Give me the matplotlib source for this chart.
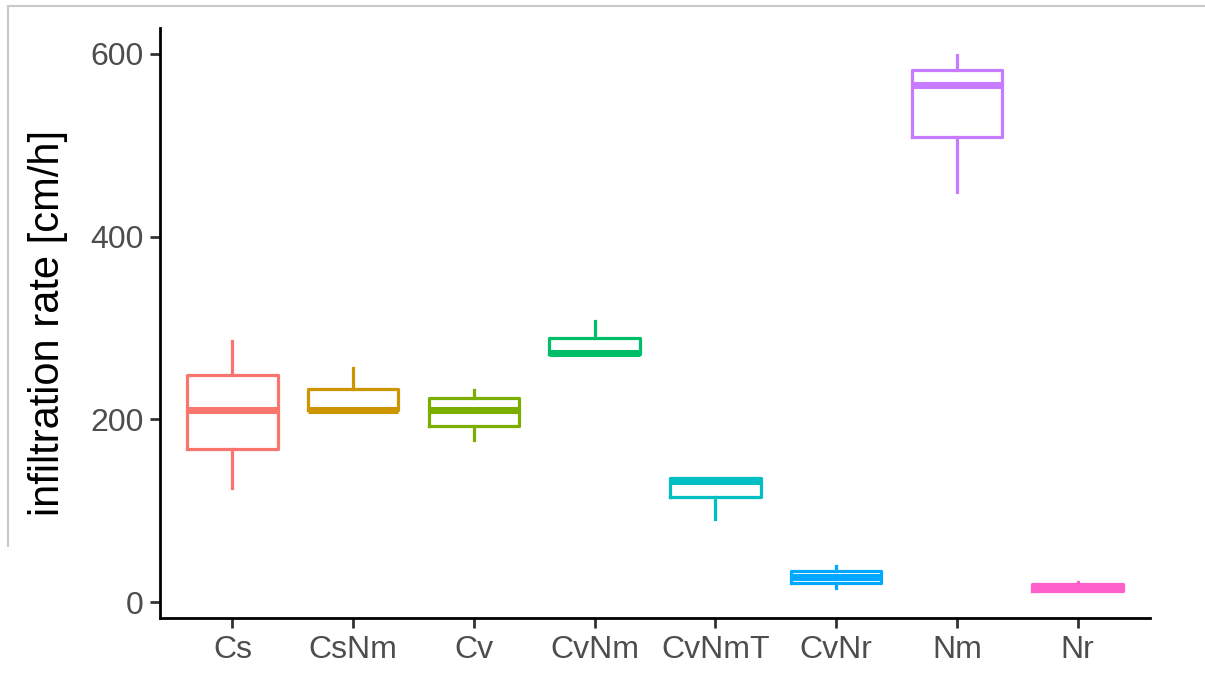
import matplotlib
matplotlib.use("Agg")
import matplotlib.pyplot as plt
from matplotlib.lines import Line2D

plt.rcParams['font.family'] = ['Liberation Sans', 'DejaVu Sans']

# soil treatments and their box summaries (cm/h)
treatments = ["Cs", "CsNm", "Cv", "CvNm", "CvNmT", "CvNr", "Nm", "Nr"]
whisk_lo = [125, 209, 177, 272, 91, 15, 449, 12]
q1 = [168, 210, 193, 272, 115, 21, 509, 12]
medians = [210, 210, 210, 273, 132, 27, 566, 16]
q3 = [249, 233, 223, 289, 136, 34, 583, 20]
whisk_hi = [286, 256, 232, 308, 136, 39, 599, 22]
colours = ["#F8766D", "#CD9600", "#7CAE00", "#00BE67",
           "#00BFC4", "#00A9FF", "#C77CFF", "#FF61CC"]

fig = plt.figure(figsize=(12.05, 6.82), dpi=100)
ax = fig.add_axes([0.1328, 0.0938, 0.8216, 0.8652])

lw = 2.3
for i, name in enumerate(treatments):
    stats = [{"label": name, "whislo": whisk_lo[i], "q1": q1[i], "med": medians[i],
              "q3": q3[i], "whishi": whisk_hi[i], "fliers": []}]
    c = colours[i]
    ax.bxp(stats, positions=[i + 1], widths=0.75, showcaps=False, showfliers=False,
           boxprops=dict(color=c, linewidth=lw),
           whiskerprops=dict(color=c, linewidth=lw),
           medianprops=dict(color=c, linewidth=lw * 2.2, solid_capstyle="butt"),
           manage_ticks=False)

ax.set_xlim(0.4, 8.6)
ax.set_ylim(-17.5, 628.5)
ax.set_xticks(range(1, 9))
ax.set_xticklabels(treatments)
ax.set_yticks([0, 200, 400, 600])

for side in ["top", "right"]:
    ax.spines[side].set_visible(False)
for side in ["left", "bottom"]:
    ax.spines[side].set_linewidth(2)
    ax.spines[side].set_color("black")

ax.tick_params(axis="both", length=7, width=2, color="#333333",
               labelsize=23, labelcolor="#4D4D4D", pad=5)
ax.set_ylabel("infiltration rate [cm/h]", fontsize=30, color="black", labelpad=16)

# thin grey frame along the top and left edge
fig.add_artist(Line2D([0.0066, 1.0], [0.991, 0.991], color="#c8c8c8", lw=1.5,
                      transform=fig.transFigure))
fig.add_artist(Line2D([0.0066, 0.0066], [0.991, 0.20], color="#c8c8c8", lw=1.5,
                      transform=fig.transFigure))

fig.savefig("out.png", dpi=100)
